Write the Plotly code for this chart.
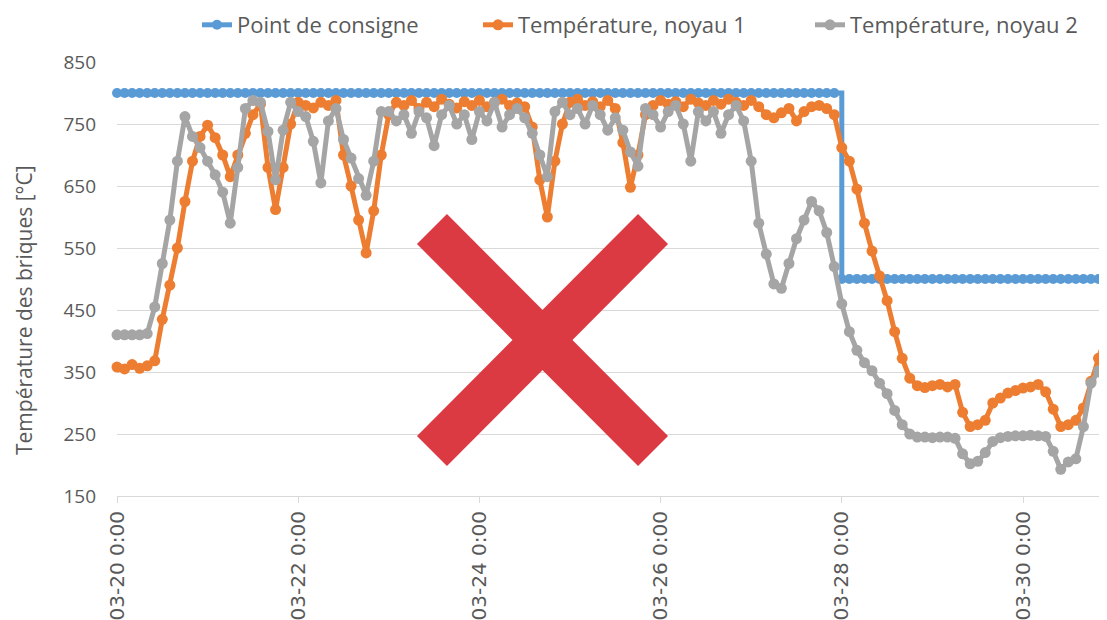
import pandas as pd
import plotly.graph_objects as go

# ---------------- data ----------------
start_time = "2021-03-20 00:00"
step = "2h"
setpoint_high = 800
setpoint_low = 500
setpoint_switch = "2021-03-28 00:00"

core1 = [358, 355, 362, 356, 360, 368, 435, 490, 550, 625, 690, 730, 748, 728, 700, 665,
         700, 735, 765, 782, 680, 612, 680, 750, 785, 780, 776, 785, 780, 788, 700, 650,
         595, 542, 610, 700, 765, 785, 780, 788, 775, 785, 778, 790, 782, 776, 786, 780,
         788, 778, 785, 790, 780, 784, 778, 745, 660, 600, 690, 750, 785, 790, 780, 786,
         778, 788, 775, 720, 648, 700, 765, 780, 788, 782, 786, 778, 790, 784, 780, 788,
         782, 790, 785, 780, 788, 778, 765, 760, 768, 775, 755, 770, 778, 780, 775, 765,
         712, 690, 645, 590, 545, 505, 465, 415, 372, 340, 328, 325, 328, 330, 326, 330,
         285, 262, 265, 272, 300, 308, 316, 320, 324, 326, 330, 318, 290, 262, 265, 272,
         292, 335, 372, 410]

core2 = [410, 410, 410, 410, 412, 455, 525, 595, 690, 762, 730, 712, 690, 668, 640, 590,
         680, 775, 788, 785, 738, 660, 740, 785, 770, 762, 722, 655, 755, 775, 725, 695,
         662, 635, 690, 770, 770, 755, 765, 735, 770, 760, 715, 765, 780, 750, 765, 725,
         770, 755, 785, 745, 765, 775, 760, 735, 700, 665, 770, 785, 765, 775, 750, 780,
         765, 740, 760, 740, 705, 682, 775, 765, 745, 770, 780, 750, 690, 770, 755, 770,
         735, 765, 780, 755, 690, 590, 540, 492, 485, 525, 565, 595, 625, 610, 575, 520,
         460, 415, 385, 365, 352, 332, 315, 288, 265, 250, 245, 245, 244, 245, 245, 243,
         218, 202, 206, 220, 238, 244, 246, 247, 247, 248, 247, 246, 222, 193, 205, 210,
         262, 332, 352, 322]

tick_dates = ["2021-03-20", "2021-03-22", "2021-03-24", "2021-03-26", "2021-03-28", "2021-03-30"]
tick_labels = ["03-20 0:00", "03-22 0:00", "03-24 0:00", "03-26 0:00", "03-28 0:00", "03-30 0:00"]
x_end = "2021-03-30 22:15"

series_names = ["Point de consigne", "Température, noyau 1", "Température, noyau 2"]
y_title = "Température des briques [°C]"

# ---------------- build ----------------
t1 = pd.date_range(start_time, periods=len(core1), freq=step)
t2 = pd.date_range(start_time, periods=len(core2), freq=step)
switch = pd.Timestamp(setpoint_switch)
setpoint = [setpoint_high if t < switch else setpoint_low for t in t1]

BLUE, ORANGE, GRAY = "#5B9BD5", "#ED7D31", "#A5A5A5"
TXT = "#595959"

fig = go.Figure()
fig.add_trace(go.Scatter(x=t1, y=setpoint, name=series_names[0], mode="lines+markers",
                         line=dict(color=BLUE, width=5, shape="hv"),
                         marker=dict(color=BLUE, size=10), cliponaxis=False,
                         legend="legend"))
fig.add_trace(go.Scatter(x=t1, y=core1, name=series_names[1], mode="lines+markers",
                         line=dict(color=ORANGE, width=5),
                         marker=dict(color=ORANGE, size=11), cliponaxis=False,
                         legend="legend2"))
fig.add_trace(go.Scatter(x=t2, y=core2, name=series_names[2], mode="lines+markers",
                         line=dict(color=GRAY, width=5),
                         marker=dict(color=GRAY, size=11), cliponaxis=False,
                         legend="legend3"))

# page offset (body margin) and plot-area geometry in window pixels
OFF = 8
W, H = 1107, 620
L, R, T, B = 117, 1107, 62, 496


def px(x):
    return (x - L) / (R - L)


def py(y):
    return (B - y) / (B - T)


def poly(pts):
    return "M " + " L ".join(f"{px(a):.4f},{py(b):.4f}" for a, b in pts) + " Z"


red = "#DC3A43"
bar1 = [(447, 214), (668, 436), (638, 466), (417, 244)]
bar2 = [(638, 214), (668, 244), (447, 466), (417, 436)]
for bar in (bar1, bar2):
    fig.add_shape(type="path", xref="paper", yref="paper", path=poly(bar),
                  fillcolor=red, line=dict(width=0), layer="above")

fig.add_annotation(text=y_title, xref="paper", yref="paper", x=px(24), y=py(310),
                   xanchor="center", yanchor="middle",
                   textangle=-90, showarrow=False,
                   font=dict(family="Open Sans", size=21, color=TXT))

leg_font = dict(family="Open Sans", size=22, color=TXT)


def leg(x):
    return dict(orientation="h", x=px(x), xanchor="left", y=py(OFF - 4), yanchor="top",
                font=leg_font, bgcolor="rgba(0,0,0,0)", itemwidth=30, borderwidth=0)


fig.update_layout(
    width=W, height=H,
    margin=dict(l=L - OFF, r=W - (R - OFF), t=T - OFF, b=H - (B - OFF), autoexpand=False),
    paper_bgcolor="white", plot_bgcolor="white",
    showlegend=True,
    legend=leg(197), legend2=leg(478), legend3=leg(810),
    xaxis=dict(type="date", range=[start_time, x_end],
               tickvals=tick_dates, ticktext=tick_labels, tickangle=-90,
               tickfont=dict(family="DejaVu Sans", size=20, color=TXT),
               ticks="outside", ticklen=6, tickcolor="#D9D9D9",
               showline=True, linecolor="#D9D9D9", linewidth=1,
               showgrid=False, zeroline=False, automargin=False),
    yaxis=dict(range=[150, 850], tickvals=[150, 250, 350, 450, 550, 650, 750, 850],
               tickfont=dict(family="Open Sans", size=19, color=TXT),
               showgrid=True, gridcolor="#D9D9D9", gridwidth=1,
               zeroline=False, showline=False, ticks="", ticklabelstandoff=20,
               automargin=False),
)

fig.write_html("out.html")
